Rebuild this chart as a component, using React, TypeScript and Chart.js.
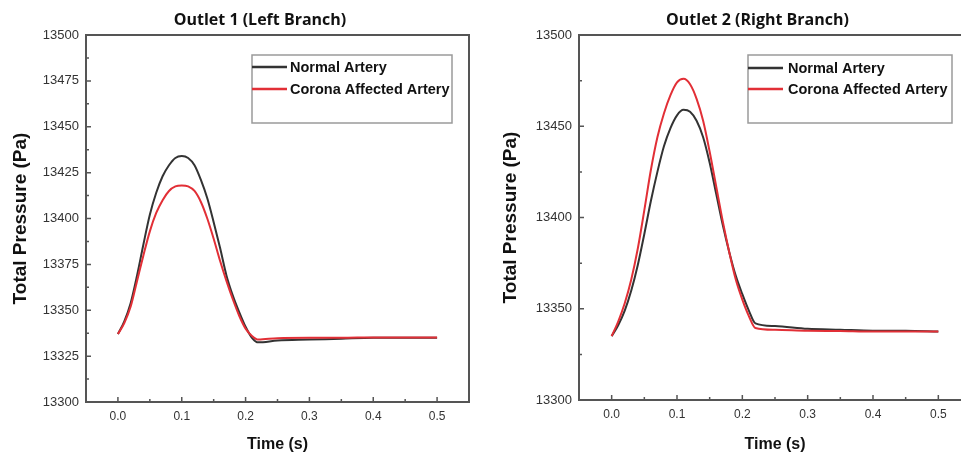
import React, { useEffect, useRef } from "react";
import { Chart, registerables } from "chart.js";

Chart.register(...registerables);

// ---- data ----
const times = [
  0, 0.01, 0.02, 0.03, 0.04, 0.05, 0.06, 0.07, 0.08, 0.09, 0.1, 0.11, 0.12, 0.13, 0.14, 0.15,
  0.16, 0.17, 0.18, 0.19, 0.2, 0.21, 0.22, 0.25, 0.3, 0.35, 0.4, 0.45, 0.5,
];

const leftNormal = [
  13337, 13344, 13354, 13369, 13386, 13402, 13414, 13423, 13429, 13433, 13434, 13433, 13429, 13421,
  13411, 13398, 13384, 13369, 13358, 13349, 13341, 13335, 13332.5, 13333.5, 13334, 13334.5, 13335,
  13335, 13335,
];

const leftCorona = [
  13337, 13343, 13352, 13366, 13380, 13393, 13403, 13410, 13415, 13417.5, 13418, 13417.5, 13415,
  13409, 13400, 13389, 13377, 13366, 13356, 13347, 13340, 13336, 13334, 13334.8, 13335, 13335,
  13335.2, 13335.2, 13335.2,
];

const rightNormal = [
  13335, 13341, 13349, 13360, 13374, 13391, 13409, 13425, 13439, 13449, 13456, 13459, 13458, 13453,
  13444, 13430, 13413, 13396, 13381, 13368, 13358, 13349, 13342, 13340.5, 13339, 13338.5, 13338,
  13338, 13337.5,
];

const rightCorona = [
  13335, 13343, 13353, 13366, 13383, 13404, 13426, 13444, 13457, 13467, 13474, 13476, 13473, 13465,
  13453, 13436, 13417, 13398, 13381, 13366, 13355, 13346, 13339.5, 13338.5, 13338, 13337.8, 13337.5,
  13337.5, 13337.5,
];

const xTickValues = [0, 0.1, 0.2, 0.3, 0.4, 0.5];
const leftYTicks = [13300, 13325, 13350, 13375, 13400, 13425, 13450, 13475, 13500];
const rightYTicks = [13300, 13350, 13400, 13450, 13500];
const seriesLabels = ["Normal Artery", "Corona Affected Artery"];
const chartTitles = ["Outlet 1 (Left Branch)", "Outlet 2 (Right Branch)"];
const xAxisTitle = "Time (s)";
const yAxisTitle = "Total Pressure (Pa)";

// ---- styles ----
const SANS = "'Liberation Sans', Arial, sans-serif";
const NORMAL_COLOR = "#333333";
const CORONA_COLOR = "#e22f36";
const FRAME_COLOR = "#555555";

const frameTicksPlugin = {
  id: "frameTicks",
  afterDatasetsDraw(chart: any) {
    const { ctx, chartArea: a, scales } = chart;
    const xs = scales.x;
    const ys = scales.y;
    ctx.save();
    ctx.strokeStyle = FRAME_COLOR;
    ctx.lineWidth = 1.5;
    ctx.beginPath();
    const yv = ys.ticks.map((t: any) => t.value);
    yv.forEach((v: number, i: number) => {
      const py = ys.getPixelForValue(v);
      ctx.moveTo(a.left, py);
      ctx.lineTo(a.left + 5, py);
      if (i < yv.length - 1) {
        const pm = ys.getPixelForValue((v + yv[i + 1]) / 2);
        ctx.moveTo(a.left, pm);
        ctx.lineTo(a.left + 3, pm);
      }
    });
    const xv = xs.ticks.map((t: any) => t.value);
    xv.forEach((v: number, i: number) => {
      const px = xs.getPixelForValue(v);
      ctx.moveTo(px, a.bottom);
      ctx.lineTo(px, a.bottom - 5);
      if (i < xv.length - 1) {
        const pm = xs.getPixelForValue((v + xv[i + 1]) / 2);
        ctx.moveTo(pm, a.bottom);
        ctx.lineTo(pm, a.bottom - 3);
      }
    });
    ctx.stroke();
    ctx.lineWidth = 2;
    ctx.strokeRect(a.left, a.top, a.right - a.left, a.bottom - a.top);
    ctx.restore();
  },
};

const boxLegendPlugin = {
  id: "boxLegend",
  afterDraw(chart: any, _args: any, opts: any) {
    const { ctx, chartArea: a } = chart;
    const bx = a.left + opts.x;
    const by = a.top + opts.y;
    ctx.save();
    ctx.fillStyle = "#ffffff";
    ctx.fillRect(bx, by, opts.w, opts.h);
    ctx.strokeStyle = "#9a9a9a";
    ctx.lineWidth = 1.5;
    ctx.strokeRect(bx, by, opts.w, opts.h);
    ctx.font = `bold 14.5px ${SANS}`;
    ctx.textBaseline = "middle";
    ctx.textAlign = "left";
    chart.data.datasets.forEach((ds: any, i: number) => {
      const ry = by + opts.rows[i];
      ctx.strokeStyle = ds.borderColor;
      ctx.lineWidth = 2.5;
      ctx.beginPath();
      ctx.moveTo(bx, ry);
      ctx.lineTo(bx + opts.lineLen, ry);
      ctx.stroke();
      ctx.fillStyle = "#111111";
      ctx.fillText(ds.label, bx + opts.textX, ry + 1);
    });
    ctx.restore();
  },
};

type PanelProps = {
  left: number;
  width: number;
  title: string;
  normal: number[];
  corona: number[];
  yTicks: number[];
  axisWidth: number;
  axisHeight: number;
  rightGap: number;
  yTitlePad: number;
  legend: { x: number; y: number; w: number; h: number; rows: number[]; lineLen: number; textX: number };
};

function Panel(p: PanelProps) {
  const ref = useRef<HTMLCanvasElement | null>(null);
  useEffect(() => {
    if (!ref.current) return;
    const chart = new Chart(ref.current, {
      type: "line",
      data: {
        datasets: [
          {
            label: seriesLabels[0],
            data: times.map((t, i) => ({ x: t, y: p.normal[i] })),
            borderColor: NORMAL_COLOR,
            borderWidth: 2,
            pointRadius: 0,
            tension: 0.4,
            cubicInterpolationMode: "monotone",
            order: 1,
          },
          {
            label: seriesLabels[1],
            data: times.map((t, i) => ({ x: t, y: p.corona[i] })),
            borderColor: CORONA_COLOR,
            borderWidth: 2,
            pointRadius: 0,
            tension: 0.4,
            cubicInterpolationMode: "monotone",
            order: 0,
          },
        ],
      },
      options: {
        animation: false,
        responsive: false,
        devicePixelRatio: 1,
        layout: { padding: 0 },
        plugins: {
          legend: { display: false },
          tooltip: { enabled: false },
          title: {
            display: true,
            text: p.title,
            color: "#111111",
            font: { family: "'Open Sans', sans-serif", size: 16, weight: "bold" },
            padding: { top: 10.4, bottom: 5.4 },
          },
          boxLegend: p.legend,
        } as any,
        scales: {
          x: {
            type: "linear",
            min: -0.05,
            max: 0.55,
            afterBuildTicks: (s: any) => {
              s.ticks = xTickValues.map((v) => ({ value: v }));
            },
            afterFit: (s: any) => {
              s.height = p.axisHeight;
            },
            grid: { display: false, drawTicks: false },
            border: { display: false },
            ticks: {
              padding: 7,
              color: "#333333",
              font: { family: SANS, size: 12 },
              callback: (v: any) => Number(v).toFixed(1),
            },
            title: {
              display: true,
              text: xAxisTitle,
              color: "#111111",
              font: { family: SANS, size: 16, weight: "bold" },
              padding: { top: 0, bottom: 1 },
            },
          },
          y: {
            type: "linear",
            position: "left",
            min: 13300,
            max: 13500,
            afterBuildTicks: (s: any) => {
              s.ticks = p.yTicks.map((v) => ({ value: v }));
            },
            afterFit: (s: any) => {
              s.width = p.axisWidth;
            },
            grid: { display: false, drawTicks: false },
            border: { display: false },
            ticks: {
              padding: 7,
              color: "#333333",
              font: { family: SANS, size: 13 },
              callback: (v: any) => String(v),
            },
            title: {
              display: true,
              text: yAxisTitle,
              color: "#111111",
              font: { family: SANS, size: 19, weight: "bold" },
              padding: { top: p.yTitlePad, bottom: 0 },
            },
          },
          gap: {
            type: "linear",
            position: "right",
            min: 0,
            max: 1,
            afterFit: (s: any) => {
              s.width = p.rightGap;
            },
            grid: { display: false, drawTicks: false },
            border: { display: false },
            ticks: { display: false },
          },
        },
      } as any,
      plugins: [frameTicksPlugin, boxLegendPlugin],
    });
    return () => chart.destroy();
  }, []);
  return (
    <canvas
      ref={ref}
      width={p.width}
      height={455}
      style={{ position: "absolute", left: p.left, top: 0, width: p.width, height: 455 }}
    />
  );
}

export default function App() {
  return (
    <div
      style={{
        position: "absolute",
        left: 0,
        top: 0,
        width: 961,
        height: 455,
        overflow: "hidden",
        background: "#ffffff",
      }}
    >
      <Panel
        left={0}
        width={520}
        title={chartTitles[0]}
        normal={leftNormal}
        corona={leftCorona}
        yTicks={leftYTicks}
        axisWidth={86}
        axisHeight={53}
        rightGap={51}
        yTitlePad={9}
        legend={{ x: 166, y: 20, w: 200, h: 68, rows: [12, 34], lineLen: 35, textX: 38 }}
      />
      <Panel
        left={480}
        width={555}
        title={chartTitles[1]}
        normal={rightNormal}
        corona={rightCorona}
        yTicks={rightYTicks}
        axisWidth={99}
        axisHeight={55}
        rightGap={64}
        yTitlePad={19}
        legend={{ x: 169, y: 20, w: 204, h: 68, rows: [13, 34], lineLen: 35, textX: 40 }}
      />
    </div>
  );
}
